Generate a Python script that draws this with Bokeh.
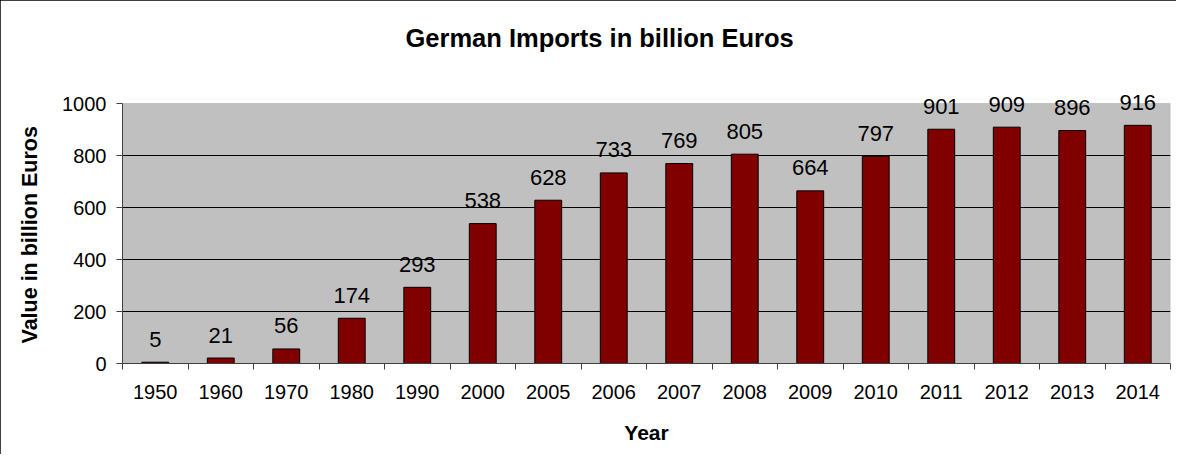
from bokeh.plotting import figure
from bokeh.models import FixedTicker, Range1d, Title, ColumnDataSource, BoxAnnotation
from bokeh.core.properties import value
from bokeh.embed import file_html
from bokeh.resources import INLINE

years = ["1950", "1960", "1970", "1980", "1990", "2000", "2005", "2006",
         "2007", "2008", "2009", "2010", "2011", "2012", "2013", "2014"]
imports = [5, 21, 56, 174, 293, 538, 628, 733, 769, 805, 664, 797, 901, 909, 896, 916]
y_ticks = [0, 200, 400, 600, 800, 1000]
title_text = "German Imports in billion Euros"
y_title = "Value in billion Euros"
x_title = "Year"

FONT = "Liberation Sans"
Y_MAX = y_ticks[-1]
# layout: plot area (0..Y_MAX) spans 260 px; 20 px of headroom above for value labels
PLOT_PX, HEAD_PX = 260, 20
y_end = Y_MAX * (PLOT_PX + HEAD_PX) / PLOT_PX

pos = list(range(1, len(years) + 1))
src = ColumnDataSource(dict(x=pos, v=imports, lab=[str(v) for v in imports]))

p = figure(width=1176, height=454, output_backend="svg", toolbar_location=None,
           x_range=Range1d(0.5, len(years) + 0.5), y_range=Range1d(0, y_end),
           min_border_left=122, min_border_right=6, min_border_top=83, min_border_bottom=91,
           background_fill_color="white", border_fill_color="white",
           outline_line_color=None)
p.styles = {"outline": "2px solid #000000", "outline-offset": "-2px"}

# grey plot area 0..Y_MAX
p.add_layout(BoxAnnotation(bottom=0, top=Y_MAX, fill_color="#C0C0C0", fill_alpha=1,
                           line_color="#808080", line_width=1, level="image"))

p.vbar(x="x", top="v", width=0.41, source=src, fill_color="#800000",
       line_color="black", line_width=1)
p.text(x="x", y="v", text="lab", source=src, text_font=value(FONT),
       text_font_size="22px", text_align="center", text_baseline="alphabetic",
       y_offset=-23, text_color="black")

# x axis
xa = p.xaxis[0]
xa.ticker = FixedTicker(ticks=pos, minor_ticks=[i + 0.5 for i in range(len(years) + 1)])
xa.major_label_overrides = {i: y for i, y in zip(pos, years)}
xa.major_tick_out = 0
xa.major_tick_in = 0
xa.minor_tick_out = 6
xa.minor_tick_in = 0
xa.minor_tick_line_color = "#404040"
xa.axis_line_color = "#404040"
xa.major_label_text_font = FONT
xa.major_label_text_font_size = "20px"
xa.major_label_text_color = "black"
xa.major_label_standoff = 15
xa.axis_label = x_title
xa.axis_label_text_font = FONT
xa.axis_label_text_font_size = "21px"
xa.axis_label_text_font_style = "bold"
xa.axis_label_text_color = "black"
xa.axis_label_standoff = 19

# y axis
ya = p.yaxis[0]
ya.ticker = FixedTicker(ticks=y_ticks)
ya.bounds = (0, Y_MAX)
ya.major_tick_out = 6
ya.major_tick_in = 0
ya.minor_tick_out = 0
ya.minor_tick_in = 0
ya.major_tick_line_color = "#404040"
ya.axis_line_color = "#404040"
ya.major_label_text_font = FONT
ya.major_label_text_font_size = "20px"
ya.major_label_text_color = "black"
ya.major_label_standoff = 10

# y axis title as a left-side title, centred on the grey plot area
p.add_layout(Title(text=y_title, text_font=FONT, text_font_size="21.5px",
                   text_font_style="bold", text_color="black", align="left",
                   offset=20, vertical_align="middle", standoff=33), "left")

p.xgrid.grid_line_color = None
p.ygrid.ticker = FixedTicker(ticks=y_ticks[1:-1])
p.ygrid.grid_line_color = "black"
p.ygrid.grid_line_width = 1

# spacer panel (nearest to frame), then the chart title above it
p.add_layout(Title(text=" ", text_font=FONT, text_font_size="20px", standoff=1.5,
                   text_color="white"), "above")
p.add_layout(Title(text=title_text, text_font=FONT, text_font_size="25.5px",
                   text_font_style="bold", text_color="black", align="left",
                   offset=283, vertical_align="middle", standoff=10), "above")

open("out.html", "w").write(file_html(p, INLINE))
